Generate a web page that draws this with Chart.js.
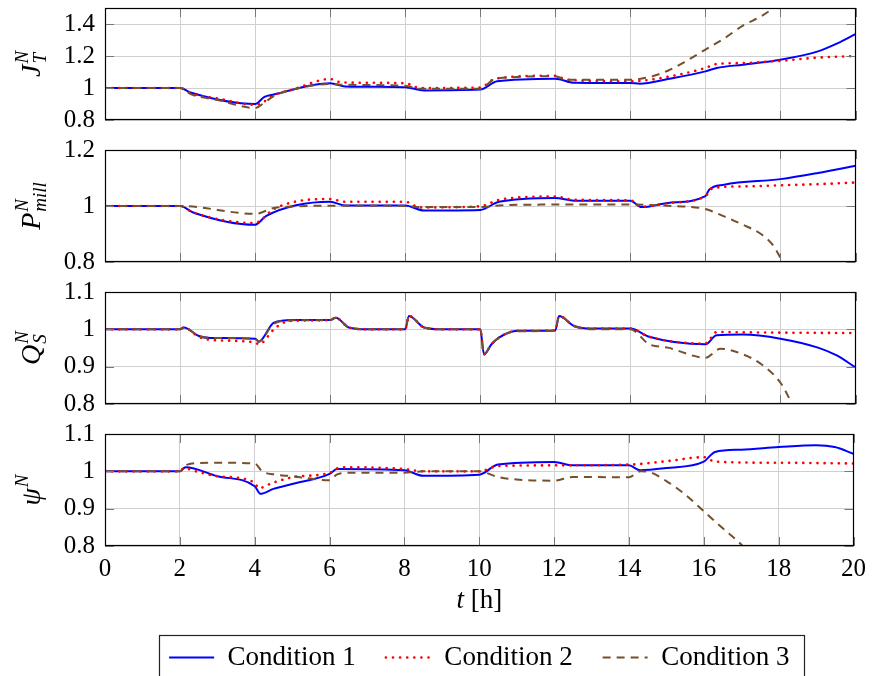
<!DOCTYPE html>
<html>
<head>
<meta charset="utf-8">
<script src="https://cdn.jsdelivr.net/npm/chart.js@4.4.1/dist/chart.umd.min.js"></script>
<style>
html, body { margin: 0; padding: 0; background: #fff; overflow: hidden; }
#wrap { position: relative; width: 874px; height: 676px; overflow: hidden; }
canvas { position: absolute; left: 0; }
</style>
</head>
<body>
<div id="wrap">
<canvas id="g1" width="874" height="164" style="top:-18px"></canvas>
<canvas id="g2" width="874" height="164" style="top:124px"></canvas>
<canvas id="g3" width="874" height="164" style="top:266px"></canvas>
<canvas id="g4" width="874" height="273" style="top:408px"></canvas>
</div>
<script>
// ---- Data (t in hours) ---- //
const xTicks = [0, 2, 4, 6, 8, 10, 12, 14, 16, 18, 20];
const legendNames = ['Condition 1', 'Condition 2', 'Condition 3'];

// J_T^N
const jTicks = [0.8, 1, 1.2, 1.4];
const tJ1 = [0, 2, 2.3, 4, 4.25, 4.5, 6, 6.4, 8, 8.5, 10, 10.45, 12, 12.5, 14, 14.25, 15, 16, 16.3, 17, 18, 19, 19.5, 20];
const J1  = [1, 1, 0.97, 0.90, 0.945, 0.96, 1.03, 1.01, 1.005, 0.985, 0.99, 1.042, 1.058, 1.033, 1.031, 1.027, 1.056, 1.104, 1.125, 1.146, 1.177, 1.229, 1.277, 1.337];
const tJ2 = [0, 2, 2.3, 3, 4, 4.2, 4.5, 5, 6, 6.3, 8, 8.4, 10, 10.4, 12, 12.3, 14, 14.3, 15, 16, 16.3, 17, 18, 19, 20];
const J2  = [1, 1, 0.965, 0.935, 0.895, 0.91, 0.955, 0.99, 1.056, 1.035, 1.03, 1.0, 1.003, 1.058, 1.077, 1.052, 1.042, 1.045, 1.07, 1.125, 1.15, 1.156, 1.17, 1.19, 1.2];
const tJ3 = [0, 2, 2.3, 3, 4, 4.2, 4.5, 5, 6, 6.4, 8, 8.4, 10, 10.4, 12, 12.3, 14, 14.5, 15, 15.5, 16, 16.5, 17, 17.5, 18];
const J3  = [1, 1, 0.96, 0.925, 0.875, 0.9, 0.95, 0.99, 1.025, 1.02, 1.014, 0.995, 0.995, 1.058, 1.073, 1.052, 1.052, 1.068, 1.108, 1.17, 1.24, 1.31, 1.39, 1.45, 1.53];

// P_mill^N
const pTicks = [0.8, 0.9, 1, 1.1, 1.2];
const tP1 = [0, 2, 2.35, 4, 4.3, 6, 6.4, 8, 8.5, 10, 10.5, 12, 12.5, 14, 14.3, 15, 16, 16.1, 16.5, 18, 19, 20];
const P1  = [1, 1, 0.977, 0.933, 0.965, 1.015, 1.002, 1.002, 0.984, 0.986, 1.015, 1.029, 1.019, 1.019, 0.996, 1.011, 1.035, 1.058, 1.076, 1.096, 1.118, 1.144];
const tP2 = [0, 2, 2.35, 4, 4.2, 4.5, 6, 6.4, 8, 8.4, 10, 10.5, 12, 12.5, 14, 14.3, 15, 16, 16.2, 17, 18, 19, 20];
const P2  = [1, 1, 0.977, 0.939, 0.955, 0.989, 1.025, 1.015, 1.015, 0.995, 0.999, 1.022, 1.034, 1.022, 1.02, 0.998, 1.01, 1.035, 1.064, 1.07, 1.074, 1.078, 1.084];
const tP3 = [0, 2, 4, 4.5, 5, 6, 8, 8.4, 10, 10.5, 12, 14, 15, 16, 16.5, 17, 17.5, 17.8, 18.1];
const P3  = [1, 1, 0.972, 0.993, 0.998, 1.001, 1.0, 0.996, 0.996, 1.002, 1.005, 1.005, 1.001, 0.989, 0.963, 0.933, 0.898, 0.86, 0.79];

// Q_S^N
const qTicks = [0.8, 0.9, 1, 1.1];
const tQ1 = [0, 2, 2.1, 2.5, 2.8, 4, 4.1, 4.5, 5, 6, 6.15, 6.5, 7, 8, 8.1, 8.5, 9, 10, 10.1, 10.3, 10.5, 11, 12, 12.1, 12.5, 13, 14, 14.5, 16, 16.3, 17, 18, 19, 19.5, 20];
const Q1  = [1, 1, 1.005, 0.982, 0.977, 0.975, 0.967, 1.018, 1.025, 1.025, 1.031, 1.005, 1.0, 1.0, 1.036, 1.005, 1.0, 1.0, 0.933, 0.96, 0.978, 0.996, 0.997, 1.036, 1.009, 1.002, 1.002, 0.98, 0.96, 0.984, 0.986, 0.975, 0.951, 0.93, 0.898];
const tQ2 = [0, 2, 2.1, 2.5, 2.8, 4, 4.1, 4.5, 4.7, 5, 6, 6.15, 6.5, 7, 8, 8.1, 8.5, 9, 10, 10.1, 10.3, 10.5, 11, 12, 12.1, 12.5, 13, 14, 14.5, 16, 16.3, 17, 20];
const Q2  = [1, 1, 1.005, 0.98, 0.972, 0.965, 0.96, 1.0, 1.015, 1.023, 1.025, 1.031, 1.005, 1.0, 1.0, 1.036, 1.005, 1.0, 1.0, 0.933, 0.96, 0.978, 0.996, 0.997, 1.036, 1.009, 1.002, 1.002, 0.98, 0.962, 0.993, 0.992, 0.99];
const tQ3 = [0, 2, 2.1, 2.5, 2.8, 4, 4.1, 4.5, 5, 6, 6.15, 6.5, 7, 8, 8.1, 8.5, 9, 10, 10.1, 10.3, 10.5, 11, 12, 12.1, 12.5, 13, 14, 14.5, 15, 16, 16.4, 17, 17.5, 18, 18.3, 18.5];
const Q3  = [1, 1, 1.005, 0.982, 0.977, 0.975, 0.967, 1.015, 1.024, 1.025, 1.031, 1.005, 1.0, 1.0, 1.036, 1.005, 1.0, 1.0, 0.933, 0.96, 0.978, 0.995, 0.997, 1.036, 1.009, 1.0, 1.0, 0.96, 0.951, 0.924, 0.948, 0.933, 0.906, 0.857, 0.802, 0.76];

// psi^N
const sTicks = [0.8, 0.9, 1, 1.1];
const tS1 = [0, 2, 2.15, 3, 4, 4.15, 4.5, 5, 6, 6.2, 8, 8.5, 10, 10.5, 12, 12.5, 14, 14.3, 15, 16, 16.3, 17, 18, 19, 19.5, 20];
const S1  = [1, 1, 1.011, 0.987, 0.96, 0.94, 0.953, 0.966, 0.993, 1.006, 1.003, 0.988, 0.991, 1.018, 1.025, 1.016, 1.016, 1.003, 1.009, 1.026, 1.052, 1.058, 1.065, 1.07, 1.065, 1.047];
const tS2 = [0, 2, 2.1, 2.5, 3, 4, 4.1, 4.5, 5, 6, 6.3, 8, 8.5, 10, 10.5, 12, 14, 15, 16, 16.3, 18, 20];
const S2  = [1, 1, 1.008, 0.998, 0.987, 0.97, 0.955, 0.97, 0.984, 0.996, 1.011, 1.006, 1.0, 1.0, 1.014, 1.016, 1.018, 1.027, 1.038, 1.026, 1.023, 1.021];
const tS3 = [0, 2, 2.2, 2.5, 3, 4, 4.2, 4.5, 5, 6, 6.2, 6.5, 8, 8.5, 10, 10.5, 11, 12, 12.5, 14, 14.3, 14.5, 15, 15.5, 16, 16.5, 17, 17.2];
const S3  = [1, 1, 1.018, 1.022, 1.023, 1.021, 1.0, 0.992, 0.987, 0.976, 0.992, 0.996, 0.996, 1.0, 1.0, 0.985, 0.978, 0.975, 0.985, 0.984, 1.0, 0.999, 0.974, 0.938, 0.893, 0.848, 0.804, 0.78];
// ----------------------------------------------- //

Chart.defaults.font.family = '"Liberation Serif", "Times New Roman", serif';
Chart.defaults.color = '#000';

const cores = ['#0000ff', '#ff0000', '#75502b'];
const larguras = [2, 2.6, 2];
const tracos = [[], [0.1, 7], [8, 6]];
const pontas = ['butt', 'round', 'butt'];
const corGrade = 'rgb(208,208,208)';
const fonteMat = '"Liberation Serif", serif';
const margem = 26;

function pts(t, v) {
    return t.map(function(x, i) { return {x: x, y: v[i]}; });
}

// Frame, inner tick marks, rotated math label, x title and legend box //
const moldura = {
    id: 'moldura',
    afterDatasetsDraw: function(chart) {
        const a = chart.chartArea, ctx = chart.ctx;
        ctx.save();
        ctx.strokeStyle = 'rgb(120,120,120)';
        ctx.lineWidth = 1;
        ctx.beginPath();
        xTicks.forEach(function(v) {
            const px = Math.round(chart.scales.x.getPixelForValue(v)) + 0.5;
            ctx.moveTo(px, a.bottom); ctx.lineTo(px, a.bottom - 9);
            ctx.moveTo(px, a.top); ctx.lineTo(px, a.top + 9);
        });
        chart.scales.y.ticks.forEach(function(t) {
            const py = Math.round(chart.scales.y.getPixelForValue(t.value)) + 0.5;
            ctx.moveTo(a.left, py); ctx.lineTo(a.left + 9, py);
            ctx.moveTo(a.right, py); ctx.lineTo(a.right - 9, py);
        });
        ctx.stroke();
        ctx.strokeStyle = '#000';
        ctx.lineWidth = 1.2;
        ctx.strokeRect(Math.round(a.left) + 0.5, Math.round(a.top) + 0.5,
            Math.round(a.right - a.left) - 1, Math.round(a.bottom - a.top) - 1);
        ctx.restore();
    },
    afterDraw: function(chart, args, opts) {
        const a = chart.chartArea, ctx = chart.ctx;
        ctx.save();
        ctx.fillStyle = '#000';
        // y label: base with stacked super/subscript, rotated
        const m = opts.rotulo;
        ctx.translate(40, (a.top + a.bottom) / 2);
        ctx.rotate(-Math.PI / 2);
        ctx.textBaseline = 'alphabetic';
        ctx.textAlign = 'left';
        ctx.font = 'italic 28px ' + fonteMat;
        const wb = ctx.measureText(m[0]).width;
        ctx.font = 'italic 19px ' + fonteMat;
        const ws = Math.max(ctx.measureText(m[1]).width, ctx.measureText(m[2]).width);
        const x0 = -(wb + ws + 1) / 2;
        ctx.font = 'italic 28px ' + fonteMat;
        ctx.fillText(m[0], x0, 0);
        ctx.font = 'italic 19px ' + fonteMat;
        ctx.fillText(m[2], x0 + wb + 1, -12);
        ctx.fillText(m[1], x0 + wb + 1, 6);
        ctx.restore();

        if (opts.tituloX) {
            ctx.save();
            ctx.fillStyle = '#000';
            ctx.textBaseline = 'middle';
            ctx.font = 'italic 27px ' + fonteMat;
            const w1 = ctx.measureText('t').width;
            ctx.font = '27px ' + fonteMat;
            const w2 = ctx.measureText(' [h]').width;
            const xs = (a.left + a.right) / 2 - (w1 + w2) / 2;
            const ys = a.bottom + 55;
            ctx.font = 'italic 27px ' + fonteMat;
            ctx.fillText('t', xs, ys);
            ctx.font = '27px ' + fonteMat;
            ctx.fillText(' [h]', xs + w1, ys);
            ctx.restore();
        }
        if (chart.legend && chart.legend.options.display) {
            const hb = chart.legend.legendHitBoxes;
            const f = hb[0], l = hb[hb.length - 1];
            const cy = f.top + f.height / 2;
            ctx.save();
            ctx.strokeStyle = '#222';
            ctx.lineWidth = 1.2;
            ctx.strokeRect(Math.round(f.left - 10) + 0.5, Math.round(cy - 23) + 0.5,
                Math.round(l.left + l.width + 15 - f.left + 10), 80);
            ctx.restore();
        }
    }
};

function painel(id, yMin, yMax, yTicks, rotulo, series, ultimo) {
    const datasets = series.map(function(s, i) {
        return {
            label: legendNames[i],
            data: pts(s[0], s[1]),
            borderColor: cores[i],
            backgroundColor: cores[i],
            borderWidth: larguras[i],
            borderDash: tracos[i],
            borderCapStyle: pontas[i],
            pointRadius: 0,
            fill: false,
            cubicInterpolationMode: 'monotone',
            order: 3 - i
        };
    });
    return new Chart(document.getElementById(id), {
        type: 'line',
        data: {datasets: datasets},
        options: {
            responsive: false,
            animation: false,
            events: [],
            layout: {padding: {top: margem, right: 18.5, left: 0, bottom: 0}},
            scales: {
                x: {
                    type: 'linear', min: 0, max: 20,
                    afterBuildTicks: function(s) { s.ticks = xTicks.map(function(v) { return {value: v}; }); },
                    afterFit: function(s) { s.height = ultimo ? 68 : margem; },
                    grid: {color: corGrade, drawTicks: false, lineWidth: 1},
                    border: {display: false},
                    ticks: {display: ultimo, padding: 8, maxRotation: 0, autoSkip: false,
                        font: {size: 25}, color: '#000',
                        callback: function(v) { return String(v); }}
                },
                y: {
                    min: yMin, max: yMax,
                    afterBuildTicks: function(s) { s.ticks = yTicks.map(function(v) { return {value: v}; }); },
                    afterFit: function(s) { s.width = 105; },
                    grid: {color: corGrade, drawTicks: false, lineWidth: 1},
                    border: {display: false},
                    ticks: {padding: 10, font: {size: 25}, color: '#000',
                        callback: function(v) { return String(+v.toFixed(2)); }}
                }
            },
            plugins: {
                tooltip: {enabled: false},
                legend: {
                    display: ultimo,
                    position: 'bottom',
                    fullSize: false,
                    labels: {
                        usePointStyle: true,
                        pointStyleWidth: 45,
                        padding: 30,
                        font: {size: 27},
                        color: '#000',
                        generateLabels: function(chart) {
                            return chart.data.datasets.map(function(ds, i) {
                                return {
                                    text: ds.label, datasetIndex: i, hidden: false,
                                    strokeStyle: ds.borderColor, fillStyle: ds.borderColor,
                                    lineWidth: ds.borderWidth, lineDash: ds.borderDash,
                                    lineCap: ds.borderCapStyle, pointStyle: 'line', fontColor: '#000'
                                };
                            });
                        }
                    }
                },
                moldura: {rotulo: rotulo, tituloX: ultimo}
            }
        },
        plugins: [moldura]
    });
}

painel('g1', 0.8, 1.5, jTicks, ['J', 'T', 'N'], [[tJ1, J1], [tJ2, J2], [tJ3, J3]], false);
painel('g2', 0.8, 1.2, pTicks, ['P', 'mill', 'N'], [[tP1, P1], [tP2, P2], [tP3, P3]], false);
painel('g3', 0.8, 1.1, qTicks, ['Q', 'S', 'N'], [[tQ1, Q1], [tQ2, Q2], [tQ3, Q3]], false);
painel('g4', 0.8, 1.1, sTicks, ['\u03C8', '', 'N'], [[tS1, S1], [tS2, S2], [tS3, S3]], true);
</script>
</body>
</html>
